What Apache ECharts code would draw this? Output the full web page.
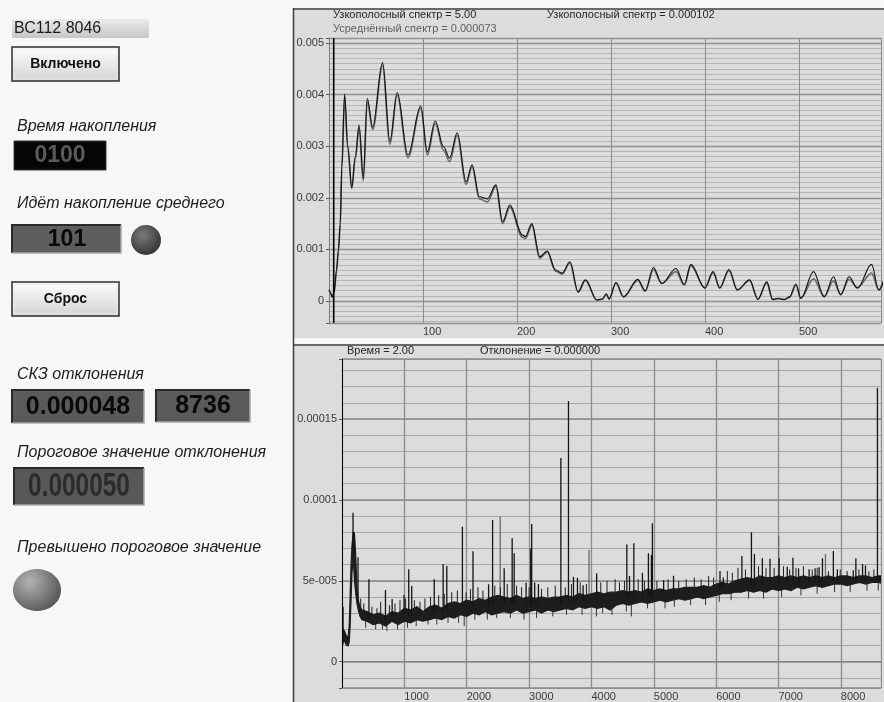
<!DOCTYPE html>
<html>
<head>
<meta charset="utf-8">
<script src="https://cdn.jsdelivr.net/npm/echarts@6/dist/echarts.min.js"></script>
<style>
html,body{margin:0;padding:0;background:#f7f7f7;}
#c{width:884px;height:702px;}
</style>
</head>
<body>
<div id="c"></div>
<script>
// ---------------- DATA ----------------
// Top chart: narrow-band spectrum (frequency, amplitude)
const specFreq = [0,1.5,3.5,5.5,8,10,12,13.6,16.6,20,24.2,28,32,36.5,40.7,46.4,57,64.8,72.5,84,97.6,104.6,113,121.9,128.3,136.4,145.9,152.2,160,168.5,177.6,184.7,192.4,205.8,209,215.8,224.2,232.2,241,248,256.3,265,272.8,285,291,295,298,305.3,313.4,328.6,336.4,345.2,354,369.2,378,385,399.9,408.7,415.7,425.6,434.4,447.5,456.3,465.8,472,478,484.5,490,496.8,502,515.5,526.9,536.7,544.4,553.3,562.2,577.2,585,590];
const specCurrent = [0.00022,0.00017,0.00007,0.00018,0.0006,0.00099,0.0015,0.0026,0.00401,0.0030,0.0022,0.0028,0.00341,0.00238,0.00393,0.00337,0.00462,0.00309,0.00404,0.00283,0.00378,0.00289,0.00349,0.00299,0.00277,0.00326,0.00231,0.00264,0.00202,0.00198,0.00225,0.00154,0.00186,0.00128,0.00125,0.0015,0.00086,0.00097,0.0006,0.00054,0.00076,0.00018,0.00041,0.00002,0.00004,0.00014,0.00004,0.00036,0.00008,0.00042,0.0002,0.00065,0.00034,0.00063,0.00032,0.00071,0.00025,0.00057,0.00025,0.00061,0.00021,0.00041,0.00003,0.00037,0.00003,0.00005,0.00003,0.00008,0.00033,0.00005,0.00057,0.00008,0.00047,0.00012,0.00047,0.00025,0.00071,0.00021,0.0004];
const specAverage = [0.0002,0.00016,0.00008,0.00017,0.00058,0.00096,0.00148,0.00255,0.00395,0.00295,0.00218,0.00276,0.00336,0.00233,0.00388,0.00332,0.00457,0.00304,0.00399,0.00278,0.00374,0.00283,0.00344,0.00292,0.0027,0.00321,0.00226,0.0026,0.00198,0.00192,0.00222,0.0015,0.00182,0.00124,0.00121,0.00147,0.00083,0.00095,0.00058,0.00052,0.00074,0.00017,0.0004,0.00002,0.00004,0.00013,0.00004,0.00035,0.00008,0.0004,0.00019,0.00061,0.00034,0.00057,0.00031,0.00068,0.00026,0.00055,0.00026,0.00059,0.00022,0.0004,0.00004,0.00035,0.00003,0.00005,0.00003,0.00007,0.00031,0.00006,0.00043,0.00009,0.00039,0.00013,0.00042,0.00026,0.00054,0.00022,0.00036];
const specCursor = 5;

// Bottom chart: deviation vs time; values in units of 1e-5
const UNIT = 1e-5;
const devX = [0,20,40,60,80,100,115,130,145,160,180,200,220,240,260,290,320,400,500,600,700,800,900,1000,1100,1200,1300,1400,1500,1600,1700,1800,1900,2000,2100,2200,2300,2400,2500,2600,2700,2800,2900,3000,3100,3200,3300,3400,3500,3600,3700,3800,3900,4000,4100,4200,4300,4400,4500,4600,4700,4800,4900,5000,5100,5200,5300,5400,5500,5600,5700,5800,5900,6000,6100,6200,6300,6400,6500,6600,6700,6800,6900,7000,7100,7200,7300,7400,7500,7600,7700,7800,7900,8000,8100,8200,8300,8400,8500,8600,8700];
const devLow = [0.9,1.2,1.3,1.1,1.0,1.0,1.2,2.2,3.8,5.5,6.4,5.0,4.2,3.6,3.2,2.8,2.6,2.5,2.3,2.4,2.2,2.5,2.3,2.5,2.4,2.6,2.5,2.6,2.7,2.6,2.8,2.7,2.9,2.8,3.0,2.9,3.1,2.9,3.0,3.1,3.0,3.2,3.0,3.1,3.2,3.0,3.2,3.1,3.2,3.3,3.2,3.4,3.3,3.4,3.3,3.4,3.2,3.5,3.6,3.5,3.6,3.7,3.6,3.7,3.8,3.7,3.8,3.9,3.8,3.9,4.0,3.9,4.0,4.1,4.2,4.2,4.3,4.3,4.4,4.3,4.4,4.3,4.5,4.4,4.5,4.4,4.6,4.5,4.6,4.7,4.6,4.7,4.8,4.8,4.7,4.8,4.9,4.8,4.9,4.9,4.8];
const devHigh = [2.1,2.0,1.9,1.7,1.5,1.6,2.2,4.0,6.0,7.2,8.0,7.9,6.6,4.6,3.8,3.4,3.2,3.1,2.9,3.0,2.8,3.1,3.0,3.3,3.2,3.4,3.1,3.4,3.5,3.3,3.6,3.7,3.6,3.8,3.7,3.9,3.8,4.0,4.1,4.0,3.9,4.1,3.9,4.0,3.9,4.0,3.9,4.0,4.0,4.1,4.0,4.2,4.1,4.2,4.3,4.2,4.3,4.3,4.4,4.3,4.4,4.3,4.5,4.4,4.5,4.4,4.5,4.5,4.6,4.6,4.6,4.7,4.6,4.8,4.9,4.8,5.0,5.1,5.2,5.1,5.3,5.2,5.2,5.3,5.2,5.3,5.2,5.3,5.2,5.3,5.2,5.3,5.2,5.3,5.3,5.2,5.3,5.3,5.2,5.3,5.3];
const spikeDarkX = [17,177,198,257,432,697,804,995,1070,1118,1479,1622,1681,1931,2101,2351,2415,2601,2729,2761,2952,3026,3042,3090,3150,3510,3632,3712,3776,3866,4084,4568,4611,4680,4818,4914,4962,4978,5158,5317,6062,6115,6413,6566,6614,6741,6864,7010,7141,7231,7322,7491,7587,7651,7705,7880,7944,8199,8241,8348,8395,8587,8630];
const spikeDarkTop = [3.4,9.2,8.0,6.45,5.1,4.43,3.87,4.12,5.71,4.68,5.09,6.04,5.91,8.34,6.82,4.78,8.76,5.77,7.63,6.70,4.88,7.0,8.51,4.9,4.8,12.59,16.11,5.25,5.19,4.72,5.46,7.25,5.3,7.32,5.5,6.7,6.6,8.55,5.05,5.31,5.6,5.2,6.53,8.0,6.66,6.39,6.37,6.4,5.87,6.43,5.77,5.71,5.77,5.83,6.39,6.84,5.71,5.65,6.39,6.04,5.95,16.93,5.3];
const spikeGrayX = [2537,3962,7003,7753];
const spikeGrayTop = [8.96,6.9,7.77,6.66];
// short noise excursions above and below the band
const hairUpX = [300,350,480,560,620,760,850,930,1020,1160,1250,1330,1420,1550,1640,1760,1850,1990,2060,2180,2260,2450,2540,2650,2800,2880,3000,3200,3300,3420,3580,3680,3820,3920,4150,4250,4380,4450,4530,4750,4850,5050,5230,5400,5520,5650,5760,5880,5960,6180,6260,6350,6470,6680,6800,6930,7080,7180,7280,7400,7540,7620,7800,7990,8100,8290,8450,8530];
const hairUpTop = [3.9,3.6,3.4,3.3,3.7,3.5,3.6,3.8,3.9,3.8,3.7,3.9,4.0,4.1,4.2,4.3,4.4,4.3,4.5,4.6,4.4,4.7,4.6,4.8,4.7,4.6,4.6,4.5,4.6,4.7,4.6,4.8,4.9,4.8,4.9,5.0,5.1,4.9,5.0,5.1,5.0,5.0,5.1,5.0,5.1,5.2,5.1,5.3,5.2,5.6,5.5,5.8,5.7,5.9,5.8,5.8,5.9,5.7,5.8,5.9,5.7,5.8,5.6,5.7,5.6,5.7,5.6,5.7];
const hairDownX = [380,540,650,720,890,1050,1190,1380,1520,1700,1870,1960,2130,2330,2480,2700,2920,3120,3380,3600,3850,4080,4180,4330,4560,4640,4900,5180,5330,5590,5830,6050,6240,6520,6760,7050,7360,7620,7900,8150,8420,8600];
const hairDownBottom = [2.1,2.0,2.0,1.9,2.0,2.1,2.2,2.3,2.3,2.4,2.4,2.2,2.6,2.6,2.7,2.7,2.6,2.7,2.8,2.9,2.9,2.8,3.0,2.9,3.1,2.8,3.3,3.3,3.4,3.5,3.5,3.7,3.8,3.9,3.9,4.0,4.1,4.2,4.3,4.3,4.4,4.4];
const devCursor = 2;

// Tick labels
const topXTicks = [100,200,300,400,500];
const topXLabels = ['100','200','300','400','500'];
const topYTicks = [0,0.001,0.002,0.003,0.004,0.005];
const topYLabels = ['0','0.001','0.002','0.003','0.004','0.005'];
const botXTicks = [1000,2000,3000,4000,5000,6000,7000,8000];
const botXLabels = ['1000','2000','3000','4000','5000','6000','7000','8000'];
const botYTicks = [0,5e-5,1e-4,1.5e-4];
const botYLabels = ['0','5e-005','0.0001','0.00015'];

// ---------------- CHART ----------------
function fmt(vals, labels){
  return function(v){
    for (let i=0;i<vals.length;i++){
      if (Math.abs(v-vals[i]) <= Math.abs(vals[i])*1e-6 + 1e-12) return labels[i];
    }
    return '';
  };
}
function midAt(x){
  for (let i=0;i<devX.length-1;i++){
    if (x>=devX[i] && x<=devX[i+1]){
      const t=(x-devX[i])/(devX[i+1]-devX[i]);
      return ((devLow[i]+devHigh[i])/2)*(1-t)+((devLow[i+1]+devHigh[i+1])/2)*t;
    }
  }
  return (devLow[devLow.length-1]+devHigh[devHigh.length-1])/2;
}
const FONT = '"Liberation Sans", Arial, sans-serif';
const lbl = {color:'#3a3a3a', fontSize:11, fontFamily:FONT};

function spikeSeries(xs, ends, color, width, z){
  return {
    type:'custom', xAxisIndex:1, yAxisIndex:2, clip:true, silent:true, z:z,
    data: xs.map((x,i)=>[x, midAt(x)*UNIT, ends[i]*UNIT]),
    encode:{x:0, y:[1,2]},
    renderItem:function(params, api){
      const p0 = api.coord([api.value(0), api.value(1)]);
      const p1 = api.coord([api.value(0), api.value(2)]);
      return {type:'line', shape:{x1:p0[0],y1:p0[1],x2:p1[0],y2:p1[1]}, style:{stroke:color, lineWidth:width}};
    }
  };
}
function cursorSeries(xi, yi, val){
  return {
    type:'custom', xAxisIndex:xi, yAxisIndex:yi, clip:true, silent:true, z:6,
    data:[[val, 0]], encode:{x:0,y:1},
    renderItem:function(params, api){
      const cs = params.coordSys;
      const x = api.coord([api.value(0), 0])[0];
      return {type:'line', shape:{x1:x,y1:cs.y,x2:x,y2:cs.y+cs.height}, style:{stroke:'#000', lineWidth:1.6}};
    }
  };
}

// left-panel widgets helpers
function sunkenBox(x,y,w,h,fill){
  return [
    {type:'rect', shape:{x:x,y:y,width:w,height:h}, style:{fill:fill}, z:1},
    {type:'polyline', shape:{points:[[x,y+h],[x,y],[x+w,y]]}, style:{stroke:'#2a2a2a', lineWidth:2, fill:null}, z:2},
    {type:'polyline', shape:{points:[[x+w,y],[x+w,y+h],[x,y+h]]}, style:{stroke:'#a8a8a8', lineWidth:1.5, fill:null}, z:2}
  ];
}
function button(x,y,w,h,text){
  return [
    {type:'rect', shape:{x:x,y:y,width:w,height:h}, style:{fill:{type:'linear',x:0,y:0,x2:0,y2:1,colorStops:[{offset:0,color:'#ffffff'},{offset:1,color:'#d2d2d2'}]}, stroke:'#2e2e2e', lineWidth:1.5}, z:1},
    {type:'rect', shape:{x:x+2,y:y+2,width:w-4,height:h-4}, style:{fill:null, stroke:'#e8e8e8', lineWidth:1}, z:2},
    {type:'text', x:x+w/2, y:y+h/2, style:{text:text, font:'bold 14px '+FONT, fill:'#111', textAlign:'center', textVerticalAlign:'middle', align:'center', verticalAlign:'middle'}, z:3}
  ];
}
function italic(x,y,text){
  return {type:'text', x:x, y:y, style:{text:text, font:'italic 16px '+FONT, fill:'#1e1e1e', textAlign:'left', textVerticalAlign:'middle', align:'left', verticalAlign:'middle'}, z:3};
}
function centerText(x,y,text,font,color){
  return {type:'text', x:x, y:y, style:{text:text, font:font, fill:color, textAlign:'center', textVerticalAlign:'middle', align:'center', verticalAlign:'middle'}, z:3};
}

const graphics = [].concat(
  [
    {type:'rect', shape:{x:0,y:0,width:884,height:702}, style:{fill:'#f7f7f7'}, z:-100},
    {type:'rect', shape:{x:293,y:9,width:591,height:329}, style:{fill:'#dcdcdc'}, z:-99},
    {type:'rect', shape:{x:293,y:345,width:591,height:357}, style:{fill:'#dcdcdc'}, z:-99},
    {type:'line', shape:{x1:293,y1:9,x2:884,y2:9}, style:{stroke:'#6a6a6a', lineWidth:2}, z:-98},
    {type:'line', shape:{x1:293,y1:345,x2:884,y2:345}, style:{stroke:'#6a6a6a', lineWidth:2}, z:-98},
    {type:'line', shape:{x1:293.5,y1:8,x2:293.5,y2:702}, style:{stroke:'#3c3c3c', lineWidth:1.5}, z:-98},
    // plot frames (top edges)
    {type:'line', shape:{x1:329,y1:38.5,x2:884,y2:38.5}, style:{stroke:'#8a8a8a', lineWidth:1}, z:-97},
    {type:'line', shape:{x1:342,y1:359.5,x2:884,y2:359.5}, style:{stroke:'#8a8a8a', lineWidth:1}, z:-97},
    // mask the axis-extent grid line at the cut-off right edge
    {type:'rect', shape:{x:882,y:37,width:3,height:287}, style:{fill:'#dcdcdc'}, z:1.5},
    {type:'rect', shape:{x:882,y:358,width:3,height:331}, style:{fill:'#dcdcdc'}, z:1.5},
    // header texts
    {type:'text', x:333, y:15, style:{text:'Узкополосный спектр = 5.00', font:'11px '+FONT, fill:'#262626', textVerticalAlign:'middle', verticalAlign:'middle'}, z:5},
    {type:'text', x:547, y:15, style:{text:'Узкополосный спектр = 0.000102', font:'11px '+FONT, fill:'#262626', textVerticalAlign:'middle', verticalAlign:'middle'}, z:5},
    {type:'text', x:333, y:29, style:{text:'Усреднённый спектр = 0.000073', font:'11px '+FONT, fill:'#5e5e5e', textVerticalAlign:'middle', verticalAlign:'middle'}, z:5},
    {type:'text', x:347, y:351, style:{text:'Время = 2.00', font:'11px '+FONT, fill:'#262626', textVerticalAlign:'middle', verticalAlign:'middle'}, z:5},
    {type:'text', x:480, y:351, style:{text:'Отклонение = 0.000000', font:'11px '+FONT, fill:'#262626', textVerticalAlign:'middle', verticalAlign:'middle'}, z:5},
    // left panel
    {type:'rect', shape:{x:12,y:19,width:137,height:19}, style:{fill:{type:'linear',x:0,y:0,x2:0,y2:1,colorStops:[{offset:0,color:'#ebebeb'},{offset:1,color:'#c6c6c6'}]}}, z:1},
    {type:'text', x:14, y:28.5, style:{text:'ВС112 8046', font:'16px '+FONT, fill:'#1a1a1a', textVerticalAlign:'middle', verticalAlign:'middle'}, z:3}
  ],
  button(12,47,107,34,'Включено'),
  [italic(17,127,'Время накопления')],
  [{type:'rect', shape:{x:14,y:141,width:92,height:29}, style:{fill:'#050505', stroke:'#3a3a3a', lineWidth:1}, z:1},
   centerText(60,156,'0100','bold 23px '+FONT,'#5a5a5a')],
  [italic(17,204,'Идёт накопление среднего')],
  sunkenBox(12,225,109,28,'#5e5e5e'),
  [centerText(67,240,'101','bold 23px '+FONT,'#0a0a0a'),
   {type:'circle', shape:{cx:146,cy:240,r:15}, style:{fill:{type:'radial',x:0.4,y:0.35,r:0.75,colorStops:[{offset:0,color:'#7a7a7a'},{offset:1,color:'#2c2c2c'}]}}, z:1}],
  button(12,282,107,34,'Сброс'),
  [italic(17,375,'СКЗ отклонения')],
  sunkenBox(12,390,132,33,'#5a5a5a'),
  [centerText(78,407,'0.000048','bold 25px '+FONT,'#0a0a0a')],
  sunkenBox(156,390,94,32,'#5a5a5a'),
  [centerText(203,406,'8736','bold 25px '+FONT,'#0a0a0a')],
  [italic(17,453,'Пороговое значение отклонения')],
  sunkenBox(14,468,130,37,'#585858'),
  [{type:'text', x:79, y:487, scaleX:0.74, scaleY:1, style:{text:'0.000050', font:'bold 33px '+FONT, fill:'#2b2b2b', textAlign:'center', textVerticalAlign:'middle', align:'center', verticalAlign:'middle'}, z:3}],
  [italic(17,548,'Превышено пороговое значение')],
  [{type:'ellipse', shape:{cx:37,cy:590,rx:24,ry:21}, style:{fill:{type:'radial',x:0.35,y:0.3,r:0.8,colorStops:[{offset:0,color:'#b4b4b4'},{offset:1,color:'#555555'}]}}, z:1}]
);

const option = {
  animation:false,
  textStyle:{fontFamily:FONT},
  graphic:{elements:graphics},
  grid:[
    {left:329, top:38, width:555, height:285, show:false},
    {left:342, top:359, width:542, height:329, show:false}
  ],
  xAxis:[
    {gridIndex:0, type:'value', min:0, max:587.3, interval:100,
     axisLine:{show:true, lineStyle:{color:'#7a7a7a'}}, axisTick:{show:false},
     axisLabel:Object.assign({align:'left', margin:3, formatter:fmt(topXTicks, topXLabels)}, lbl),
     splitLine:{show:true, lineStyle:{color:'#8c8c8c', width:1}}},
    {gridIndex:1, type:'value', min:0, max:8644, interval:1000,
     axisLine:{show:true, lineStyle:{color:'#7a7a7a'}}, axisTick:{show:false},
     axisLabel:Object.assign({align:'left', margin:3, formatter:fmt(botXTicks, botXLabels)}, lbl),
     splitLine:{show:true, lineStyle:{color:'#8c8c8c', width:1.3}}}
  ],
  yAxis:[
    {gridIndex:0, type:'value', position:'left', min:-0.000426, max:0.005097, minInterval:0.001, maxInterval:0.001, splitNumber:5, z:1,
     axisLine:{show:true, lineStyle:{color:'#7a7a7a'}}, axisTick:{show:true, length:3, lineStyle:{color:'#555'}},
     axisLabel:Object.assign({margin:5, formatter:fmt(topYTicks, topYLabels)}, lbl),
     splitLine:{show:true, lineStyle:{color:'#909090', width:1.3}}},
    {gridIndex:0, type:'value', position:'left', min:-0.000426, max:0.005097, minInterval:0.0001, maxInterval:0.0001, splitNumber:55, z:0,
     axisLine:{show:false}, axisTick:{show:false}, axisLabel:{show:false},
     splitLine:{show:true, lineStyle:{color:'#b6b6b6', width:1}}},
    {gridIndex:1, type:'value', position:'left', min:-1.625e-5, max:1.8708e-4, minInterval:5e-5, maxInterval:5e-5, splitNumber:4, z:1,
     axisLine:{show:true, lineStyle:{color:'#7a7a7a'}}, axisTick:{show:true, length:3, lineStyle:{color:'#555'}},
     axisLabel:Object.assign({margin:5, formatter:fmt(botYTicks, botYLabels)}, lbl),
     splitLine:{show:true, lineStyle:{color:'#8a8a8a', width:1.5}}},
    {gridIndex:1, type:'value', position:'left', min:-1.625e-5, max:1.8708e-4, minInterval:1e-5, maxInterval:1e-5, splitNumber:20, z:0,
     axisLine:{show:false}, axisTick:{show:false}, axisLabel:{show:false},
     splitLine:{show:true, lineStyle:{color:'#a6a6a6', width:1}}}
  ],
  series:[
    {type:'line', xAxisIndex:0, yAxisIndex:0, name:'avg', data:specFreq.map((f,i)=>[f, specAverage[i]]),
     smooth:0.35, smoothMonotone:'x', showSymbol:false, symbol:'none', silent:true, z:3,
     lineStyle:{color:'#6c6c6c', width:1.7}},
    {type:'line', xAxisIndex:0, yAxisIndex:0, name:'cur', data:specFreq.map((f,i)=>[f, specCurrent[i]]),
     smooth:0.35, smoothMonotone:'x', showSymbol:false, symbol:'none', silent:true, z:4,
     lineStyle:{color:'#111111', width:1.1}},
    cursorSeries(0, 0, specCursor),
    spikeSeries(spikeGrayX, spikeGrayTop, '#6a6a6a', 1.3, 3),
    spikeSeries(hairDownX, hairDownBottom, '#333333', 1, 3),
    spikeSeries(hairUpX, hairUpTop, '#1d1d1d', 1, 3),
    {type:'custom', xAxisIndex:1, yAxisIndex:2, clip:true, silent:true, z:3,
     data:[[0,0]], encode:{x:0,y:1},
     renderItem:function(params, api){
       const pts = [];
       for (let i=0;i<devX.length;i++) pts.push(api.coord([devX[i], devLow[i]*UNIT]));
       for (let i=devX.length-1;i>=0;i--) pts.push(api.coord([devX[i], devHigh[i]*UNIT]));
       return {type:'polygon', shape:{points:pts}, style:{fill:'#1d1d1d', stroke:'#1d1d1d', lineWidth:1.2}};
     }},
    spikeSeries(spikeDarkX, spikeDarkTop, '#141414', 1.3, 4),
    cursorSeries(1, 2, devCursor)
  ]
};
const chart = echarts.init(document.getElementById('c'));
chart.setOption(option);
</script>
</body>
</html>
